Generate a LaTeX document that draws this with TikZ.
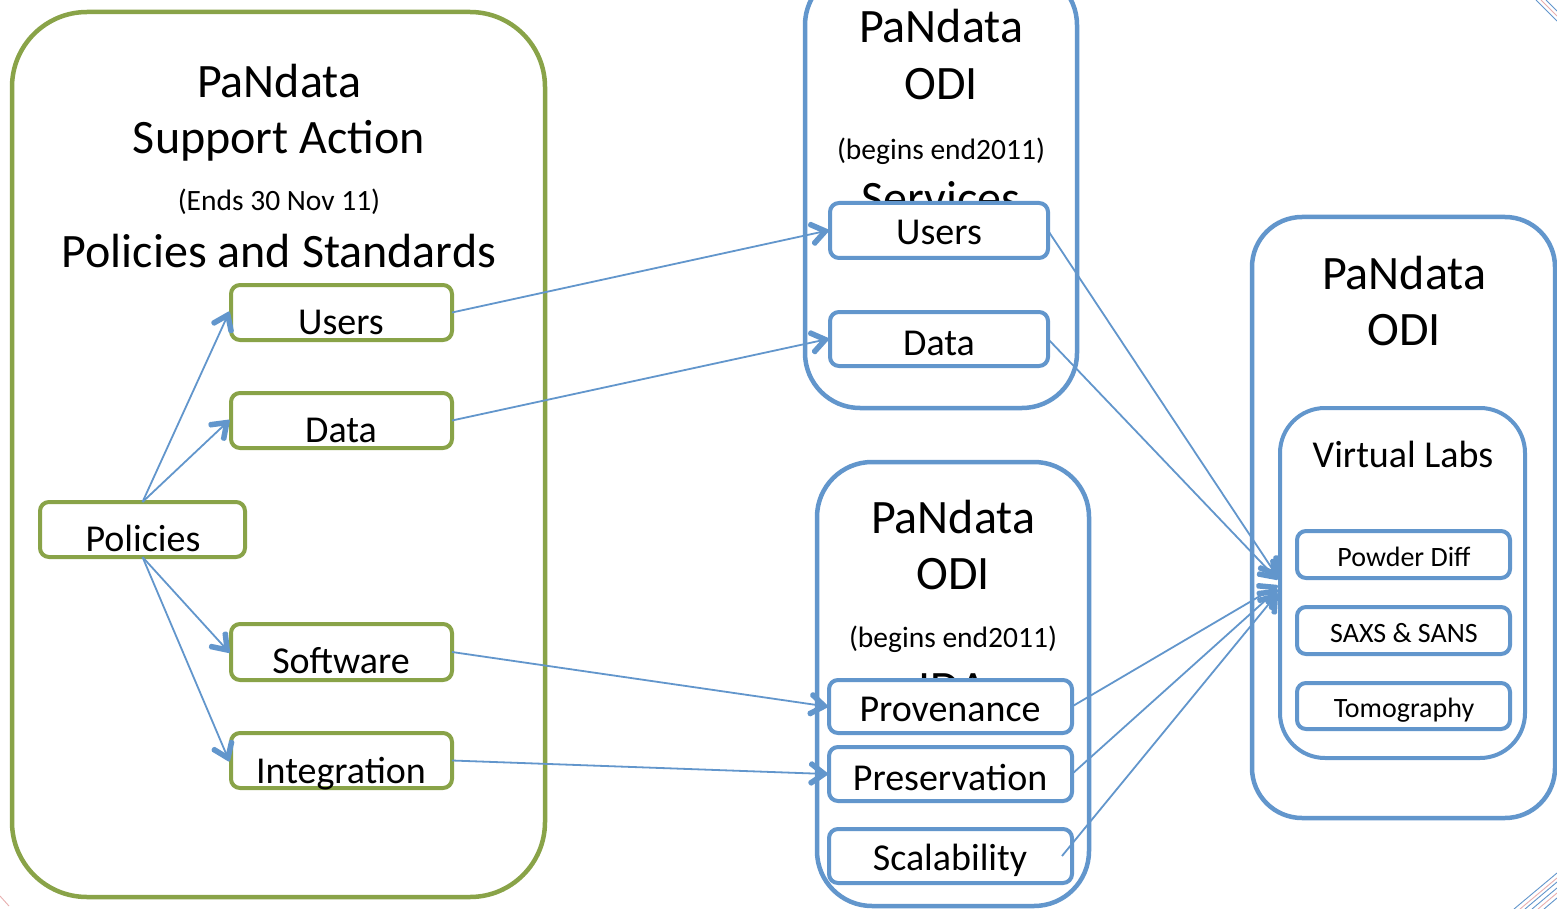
\documentclass[tikz,border=0pt]{standalone}
\usepackage{fontspec}
\setmainfont{Carlito}
\usetikzlibrary{decorations.markings}
\definecolor{pgreen}{RGB}{137,163,72}
\definecolor{pblue}{RGB}{98,150,204}
\definecolor{ppink}{RGB}{232,175,175}
\begin{document}
\begin{tikzpicture}[x=1pt,y=-1pt,
  gbig/.style={draw=pgreen, line width=4.5pt, rounded corners=75pt, fill=white, inner sep=0pt, outer sep=0pt, anchor=north west},
  bbig/.style={draw=pblue, line width=4.5pt, rounded corners=55pt, fill=white, inner sep=0pt, outer sep=0pt, anchor=north west},
  gsmall/.style={draw=pgreen, line width=4pt, rounded corners=9pt, fill=white, inner sep=0pt, outer sep=0pt, anchor=north west},
  bsmall/.style={draw=pblue, line width=4pt, rounded corners=9pt, fill=white, inner sep=0pt, outer sep=0pt, anchor=north west},
  title/.style={anchor=base, font=\fontsize{48}{57}\selectfont, inner sep=0pt},
  note/.style={anchor=base, font=\fontsize{29.5}{35}\selectfont, inner sep=0pt},
  lbl/.style={anchor=base, font=\fontsize{38}{45}\selectfont, inner sep=0pt},
  slbl/.style={anchor=base, font=\fontsize{28}{33}\selectfont, inner sep=0pt},
  conn/.style={draw=pblue, line width=1.8pt,
    decoration={markings, mark=at position 1 with {\fill[pblue, rounded corners=1.5pt] (2pt,0pt) -- (-16pt,-13pt) -- (-19.2pt,-8.5pt) -- (-7.4pt,0pt) -- (-19.2pt,8.5pt) -- (-16pt,13pt) -- cycle;}},
    postaction={decorate}},
  deco/.style={line width=0.9pt},
]
\path[use as bounding box, clip] (0,0) rectangle (1557,909);
\fill[white] (0,0) rectangle (1557,909);

% ---- left green container
\node[gbig, minimum width=533pt, minimum height=885pt] (sa) at (12,12) {};
\node[title] (sat1) at (279,98) {PaNdata};
\node[title] (sat2) at (279,154) {Support Action};
\node[note]  (sat3) at (279,211) {(Ends 30 Nov 11)};
\node[title] (sat4) at (279,268) {Policies and Standards};

\node[gsmall, minimum width=221pt, minimum height=55pt] (gu) at (231,285) {};
\node[lbl] (gut) at (341,334) {Users};
\node[gsmall, minimum width=221pt, minimum height=55pt] (gd) at (231,393) {};
\node[lbl] (gdt) at (341,442) {Data};
\node[gsmall, minimum width=205pt, minimum height=55pt] (pol) at (40,502) {};
\node[lbl] (polt) at (143,551) {Policies};
\node[gsmall, minimum width=221pt, minimum height=56pt] (gs) at (231,624) {};
\node[lbl] (gst) at (341,673) {Software};
\node[gsmall, minimum width=221pt, minimum height=55pt] (gi) at (231,733) {};
\node[lbl] (git) at (341,783) {Integration};

% ---- top middle blue container
\node[bbig, minimum width=272pt, minimum height=438pt] (odi1) at (805,-30) {};
\node[title] (o1t1) at (941,43) {PaNdata};
\node[title] (o1t2) at (941,100) {ODI};
\node[note]  (o1t3) at (941,160) {(begins end2011)};
\node[title] (o1t4) at (941,215) {Services};
\node[bsmall, minimum width=218pt, minimum height=55pt] (bu) at (830,203) {};
\node[lbl] (but) at (939,245) {Users};
\node[bsmall, minimum width=218pt, minimum height=54pt] (bd) at (830,312) {};
\node[lbl] (bdt) at (939,355) {Data};

% ---- bottom middle blue container
\node[bbig, minimum width=272pt, minimum height=444pt] (odi2) at (817,462) {};
\node[title] (o2t1) at (953,533) {PaNdata};
\node[title] (o2t2) at (953,589) {ODI};
\node[note]  (o2t3) at (953,647) {(begins end2011)};
\node[title] (o2t4) at (953,704) {IDA};
\node[bsmall, minimum width=243pt, minimum height=53pt] (pv) at (829,680) {};
\node[lbl] (pvt) at (950,721) {Provenance};
\node[bsmall, minimum width=243pt, minimum height=54pt] (pr) at (829,747) {};
\node[lbl] (prt) at (950,790) {Preservation};
\node[bsmall, minimum width=243pt, minimum height=54pt] (sc) at (829,829) {};
\node[lbl] (sct) at (950,870) {Scalability};

% ---- right blue container
\node[bbig, rounded corners=50pt, minimum width=303pt, minimum height=601pt] (odi3) at (1252,217) {};
\node[title] (o3t1) at (1404,289) {PaNdata};
\node[title] (o3t2) at (1404,345) {ODI};
\node[bbig, rounded corners=45pt, line width=4pt, minimum width=245pt, minimum height=350pt] (vl) at (1280,408) {};
\node[lbl] (vlt) at (1403,467) {Virtual Labs};
\node[bsmall, minimum width=213pt, minimum height=47pt] (pd) at (1297,531) {};
\node[slbl] (pdt) at (1404,566) {Powder Diff};
\node[bsmall, minimum width=213pt, minimum height=47pt] (sx) at (1297,607) {};
\node[slbl] (sxt) at (1404,642) {SAXS \& SANS};
\node[bsmall, minimum width=213pt, minimum height=46pt] (tm) at (1297,683) {};
\node[slbl] (tmt) at (1404,717) {Tomography};

% ---- connector end points on Virtual Labs
\coordinate (t1) at (1277,576);
\coordinate (t2) at (1277,579);
\coordinate (t3) at (1277,586);
\coordinate (t4) at (1277,590);
\coordinate (t5) at (1277,594);

% ---- connectors
\draw[conn] (pol.north) -- ([xshift=-2pt]gu.west);
\draw[conn] (pol.north) -- ([xshift=-2pt]gd.west);
\draw[conn] (pol.south) -- ([xshift=-2pt]gs.west);
\draw[conn] (pol.south) -- ([xshift=-2pt]gi.west);
\draw[conn] (gu.east) -- ([xshift=-2pt]bu.west);
\draw[conn] (gd.east) -- ([xshift=-2pt]bd.west);
\draw[conn] (gs.east) -- ([xshift=-2pt]pv.west);
\draw[conn] (gi.east) -- ([xshift=-2pt]pr.west);
\draw[conn] (bu.east) -- (t1);
\draw[conn] (bd.east) -- (t2);
\draw[conn] (pv.east) -- (t3);
\draw[conn] (pr.east) -- (t4);
\draw[conn] ([xshift=-10pt]sc.east) -- (t5);

% ---- corner decorations
\draw[deco, pblue] (1536,0) -- (1557,21);
\draw[deco, ppink] (1541,0) -- (1557,16);
\draw[deco, pblue] (1546,0) -- (1557,11);
\draw[deco, pblue] (1514,909) -- (1557,873);
\draw[deco, ppink] (1520,909) -- (1557,878);
\draw[deco, pblue] (1525,909) -- (1557,882);
\draw[deco, pblue] (1532,909) -- (1557,888);
\draw[deco, ppink] (1538,909) -- (1557,893);
\draw[deco, pblue] (1544,909) -- (1557,898);
\draw[deco, ppink] (0,896) -- (9,906);
\end{tikzpicture}
\end{document}
